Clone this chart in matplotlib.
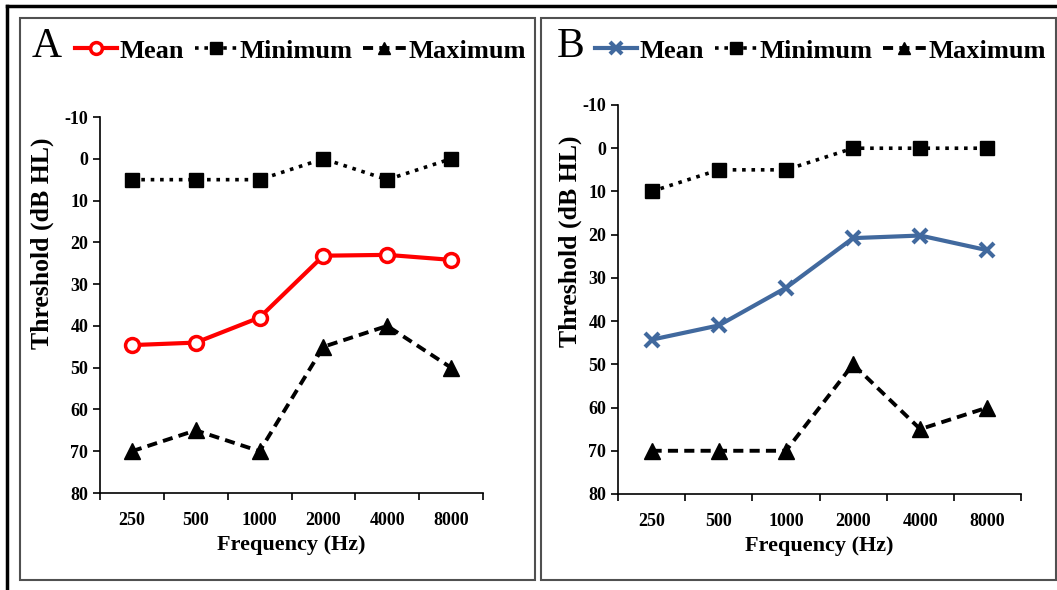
import matplotlib
matplotlib.use('Agg')
import matplotlib.pyplot as plt
from matplotlib.patches import Rectangle
from matplotlib.lines import Line2D

plt.rcParams['font.family'] = 'Liberation Serif'
plt.rcParams['axes.unicode_minus'] = False

freqs = ['250', '500', '1000', '2000', '4000', '8000']

# painel A
mean_a = [44.6, 44.0, 38.0, 23.2, 23.0, 24.2]
min_a = [5, 5, 5, 0, 5, 0]
max_a = [70, 65, 70, 45, 40, 50]

# painel B
mean_b = [44.3, 41.0, 32.3, 20.8, 20.2, 23.6]
min_b = [10, 5, 5, 0, 0, 0]
max_b = [70, 70, 70, 50, 65, 60]

W, H = 1057, 590
fig = plt.figure(figsize=(W / 100, H / 100), dpi=100)


def px(x0, y0, x1, y1):
    # converte caixa em pixels para coordenadas da figura
    return [x0 / W, 1 - y1 / H, (x1 - x0) / W, (y1 - y0) / H]


def set_panel(box, letter, letter_xy, leg_xy, ylab_xy, mean, mins, maxs, mean_style):
    ax = fig.add_axes(px(*box))
    x = range(len(freqs))
    ax.plot(x, mean, label='Mean', zorder=3, **mean_style)
    ax.plot(x, mins, color='black', linestyle=(0, (1, 1.6)), lw=2.6,
            marker='s', ms=10, label='Minimum', zorder=3)
    ax.plot(x, maxs, color='black', linestyle=(0, (2.6, 1.6)), lw=2.8,
            marker='^', ms=11, label='Maximum', zorder=3)

    ax.set_xlim(-0.5, len(freqs) - 0.5)
    ax.set_ylim(80, -10)
    ax.set_yticks(range(-10, 81, 10))
    ax.set_xticks([i - 0.5 for i in range(len(freqs) + 1)])
    ax.set_xticklabels([])
    ax.set_xticks(list(x), minor=True)
    ax.set_xticklabels(freqs, minor=True)
    ax.tick_params(axis='x', which='minor', length=0, pad=14)
    ax.tick_params(axis='both', which='major', length=5, width=1.2, direction='out')
    for lab in ax.get_yticklabels() + ax.get_xticklabels(minor=True):
        lab.set_fontsize(13)
        lab.set_fontweight('bold')
    for s in ['top', 'right']:
        ax.spines[s].set_visible(False)
    for s in ['left', 'bottom']:
        ax.spines[s].set_linewidth(1.2)
    ax.set_xlabel('Frequency (Hz)', fontsize=16, fontweight='bold', labelpad=4)
    ax.set_ylabel('Threshold (dB HL)', fontsize=18.5, fontweight='bold')
    ax.yaxis.set_label_coords(ylab_xy[0], ylab_xy[1])

    fig.text(letter_xy[0] / W, 1 - letter_xy[1] / H, letter, fontsize=30,
             ha='left', va='center')
    ax.legend(loc='center left', bbox_to_anchor=(leg_xy[0] / W, 1 - leg_xy[1] / H),
              bbox_transform=fig.transFigure, ncol=3, frameon=False,
              handlelength=1.6, handletextpad=0.1, columnspacing=0.4,
              borderaxespad=0, borderpad=0, markerscale=0.85,
              prop={'size': 19, 'weight': 'bold'})
    return ax


set_panel((100, 117, 483, 493), 'A', (32, 47), (75, 51), (-0.12, 0.665),
          mean_a, min_a, max_a,
          dict(color='#FF0000', lw=3, marker='o', ms=10, mfc='white', mec='#FF0000', mew=2.5))
set_panel((618, 105, 1021, 494), 'B', (557, 47), (595, 51), (-0.09, 0.65),
          mean_b, min_b, max_b,
          dict(color='#41699E', lw=3, marker='x', ms=10, mew=3))

# molduras
for x0, x1 in [(20, 535), (541, 1056)]:
    fig.add_artist(Rectangle((x0 / W, 1 - 580 / H), (x1 - x0) / W, (580 - 18) / H,
                             transform=fig.transFigure, fill=False,
                             edgecolor='#505050', lw=1.5))
fig.add_artist(Line2D([7 / W, 1], [1 - 6 / H, 1 - 6 / H], transform=fig.transFigure,
                      color='black', lw=2.5))
fig.add_artist(Line2D([7 / W, 7 / W], [0, 1 - 6 / H], transform=fig.transFigure,
                      color='black', lw=2.5))

plt.savefig('out.png', dpi=100)
